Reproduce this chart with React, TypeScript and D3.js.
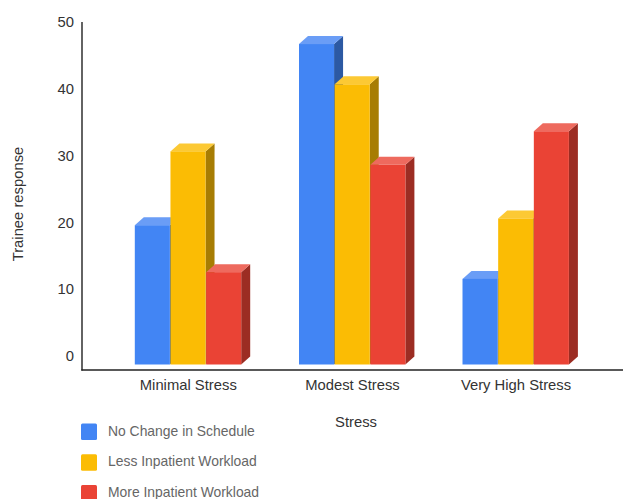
import React from "react";
import * as d3 from "d3";

const categories = ["Minimal Stress", "Modest Stress", "Very High Stress"];
const seriesNames = ["No Change in Schedule", "Less Inpatient Workload", "More Inpatient Workload"];
const noChange = [20, 47, 12];
const lessWorkload = [31, 41, 21];
const moreWorkload = [13, 29, 34];
const yTicks = [0, 10, 20, 30, 40, 50];

const frontColors = ["#4285F4", "#FBBC04", "#EA4335"];
const topColors = ["#6A9DF6", "#FCC934", "#EE6A5E"];
const sideColors = ["#2C59A3", "#A77D03", "#9C2D23"];

const FONT = "'Liberation Sans', Arial, sans-serif";
const DEPTH_X = 9;
const DEPTH_Y = 8;
const FLOOR = 364.5;

export default function App() {
  const series = [noChange, lessWorkload, moreWorkload];
  // Bars sit on the front floor of the 3D plot; tick labels align with its back wall.
  const y = d3.scaleLinear().domain([0, 50]).range([359.4, 23.9]);
  const yLabel = d3.scaleLinear().domain([0, 50]).range([356, 22]);
  const groupWidth = 107;
  const xBar = d3.scaleBand<number>().domain([0, 1, 2]).range([0, groupWidth]).padding(0);
  const groupCenters = [188.3, 352.5, 516];

  return (
    <svg
      width={625}
      height={499}
      viewBox="0 0 625 499"
      style={{ position: "absolute", left: 0, top: 0, background: "#fff" }}
      fontFamily={FONT}
    >
      {categories.map((cat, c) => (
        <g key={cat} transform={`translate(${groupCenters[c] - groupWidth / 2},0)`}>
          {series.map((vals, s) => {
            const x0 = xBar(s) as number;
            const x1 = x0 + xBar.bandwidth();
            const top = y(vals[c]);
            const side = d3.path();
            side.moveTo(x1 - 0.6, top);
            side.lineTo(x1 + DEPTH_X - 0.6, top - DEPTH_Y);
            side.lineTo(x1 + DEPTH_X - 0.6, FLOOR - DEPTH_Y);
            side.lineTo(x1 - 0.6, FLOOR);
            side.closePath();
            const roof = d3.path();
            roof.moveTo(x0, top);
            roof.lineTo(x0 + DEPTH_X, top - DEPTH_Y);
            roof.lineTo(x1 + DEPTH_X - 0.6, top - DEPTH_Y);
            roof.lineTo(x1 - 0.6, top);
            roof.closePath();
            return (
              <g key={seriesNames[s]}>
                <path d={side.toString()} fill={sideColors[s]} />
                <path d={roof.toString()} fill={topColors[s]} />
                <rect x={x0} y={top} width={xBar.bandwidth() - 0.6} height={FLOOR - top} fill={frontColors[s]} />
              </g>
            );
          })}
        </g>
      ))}

      <line x1={82} x2={82} y1={22} y2={370.5} stroke="#222" strokeWidth={1.4} />
      <line x1={81.3} x2={623} y1={370} y2={370} stroke="#222" strokeWidth={1.4} />

      {yTicks.map((t) => (
        <text key={t} x={74} y={yLabel(t)} dy="0.35em" textAnchor="end" fontSize={14.8} fill="#333">
          {t}
        </text>
      ))}

      {categories.map((cat, c) => (
        <text key={cat} x={groupCenters[c]} y={389.5} textAnchor="middle" fontSize={14.8} fill="#333">
          {cat}
        </text>
      ))}

      <text x={356} y={427} textAnchor="middle" fontSize={14.8} fill="#333">
        Stress
      </text>
      <text
        transform="translate(23,204) rotate(-90)"
        textAnchor="middle"
        fontSize={14.8}
        fill="#333"
      >
        Trainee response
      </text>

      {seriesNames.map((name, s) => (
        <g key={name} transform={`translate(81,${423.5 + s * 30.7})`}>
          <rect width={16} height={16.5} rx={1.5} fill={frontColors[s]} />
          <text x={27} y={12} fontSize={13.9} fill="#666">
            {name}
          </text>
        </g>
      ))}
    </svg>
  );
}
